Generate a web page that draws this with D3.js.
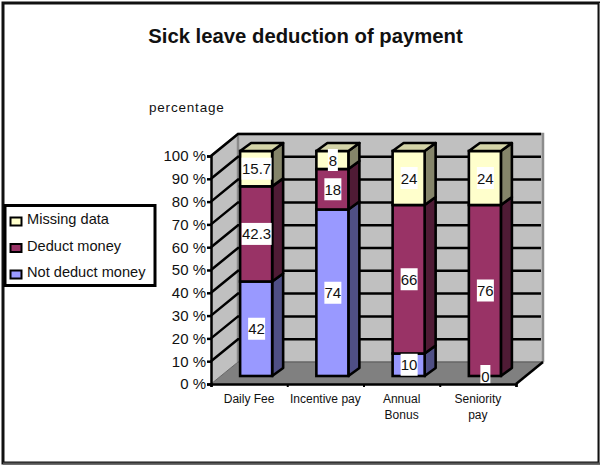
<!DOCTYPE html>
<html><head><meta charset="utf-8">
<script src="https://cdn.jsdelivr.net/npm/d3@7"></script>
<style>html,body{margin:0;padding:0;background:#fff}svg{display:block}text{font-family:"Liberation Sans",Arial,sans-serif;fill:#111}</style>
</head><body><svg id="c" width="600" height="465"></svg>
<script>
const categories = [["Daily Fee"], ["Incentive pay"], ["Annual","Bonus"], ["Seniority","pay"]];
const seriesNames = ["Not deduct money", "Deduct money", "Missing data"];
const notDeduct = [42, 74, 10, 0];
const deduct = [42.3, 18, 66, 76];
const missing = [15.7, 8, 24, 24];
const yTicks = [0,10,20,30,40,50,60,70,80,90,100];
const front = ["#9999ff","#993366","#ffffcc"];
const side = ["#4f4f85","#4f1b35","#85856a"];
const topFace = ["#7a7acc","#7a2952","#d4d4a8"];
const series = [notDeduct, deduct, missing];

const svg = d3.select("#c");
// chart frame
svg.append("rect").attr("x",3).attr("y",3).attr("width",596).attr("height",460)
  .attr("fill","#fff").attr("stroke","#111").attr("stroke-width",3);
svg.append("line").attr("x1",599.5).attr("x2",599.5).attr("y1",3).attr("y2",464).attr("stroke","#777").attr("stroke-width",1);
svg.append("line").attr("x1",3).attr("x2",600).attr("y1",463.5).attr("y2",463.5).attr("stroke","#555").attr("stroke-width",2);

svg.append("text").attr("x",305.5).attr("y",43).attr("text-anchor","middle")
  .attr("font-size",20.3).attr("font-weight","bold").text("Sick leave deduction of payment");
svg.append("text").attr("x",149).attr("y",112).attr("font-size",13.5).attr("letter-spacing",0.8).text("percentage");

// plot geometry
const y0 = 384, y100 = 156, x0 = 211, x1 = 516, dw = 27, dh = 22, bdx = 11, bdy = 8;
const yAxis = d3.scaleLinear().domain([0,100]).range([y0,y100]);
const yBar = d3.scaleLinear().domain([0,100]).range([376,151]);
const x = d3.scaleBand().domain(d3.range(categories.length)).range([218,523]).paddingInner(0.58).paddingOuter(0.29);
const tickX = d3.scaleBand().domain(d3.range(categories.length)).range([x0,x1]);
const pts = a => a.map(p=>p.join(",")).join(" ");

// walls and floor
svg.append("polygon").attr("points",pts([[x0+dw,y100-dh],[x1+dw,y100-dh],[x1+dw,y0-dh],[x0+dw,y0-dh]])).attr("fill","#c0c0c0");
svg.append("polygon").attr("points",pts([[x0,y100],[x0+dw,y100-dh],[x0+dw,y0-dh],[x0,y0]])).attr("fill","#c0c0c0");
svg.append("polygon").attr("points",pts([[x0,y0],[x0+dw,y0-dh],[x1+dw,y0-dh],[x1,y0]])).attr("fill","#808080");
// wall edges
svg.append("polyline").attr("points",pts([[x0,y100],[x0+dw,y100-dh],[x1+dw,y100-dh],[x1+dw,y0-dh]])).attr("fill","none").attr("stroke","#8c8c8c").attr("stroke-width",2.5);
svg.append("line").attr("x1",x0+dw).attr("x2",x0+dw).attr("y1",y100-dh).attr("y2",y0-dh).attr("stroke","#8c8c8c").attr("stroke-width",2.5);
svg.append("line").attr("x1",x0+dw).attr("x2",x1+dw).attr("y1",y0-dh).attr("y2",y0-dh).attr("stroke","#666").attr("stroke-width",1.5);
svg.append("line").attr("x1",x0).attr("x2",x0+dw).attr("y1",y0).attr("y2",y0-dh).attr("stroke","#666").attr("stroke-width",1);

// gridlines
yTicks.filter(t=>t>0).forEach(t=>{
  const yy = yAxis(t);
  svg.append("polyline").attr("points",pts([[x0,yy],[x0+dw,yy-dh],[x1+dw-2,yy-dh]])).attr("fill","none").attr("stroke","#000").attr("stroke-width",2.5);
});

// bars
const sw = 2.6;
categories.forEach((c,i)=>{
  const bx = x(i), bw = x.bandwidth();
  let cum = 0;
  const segs = series.map((s,k)=>{ const a=cum; cum+=s[i]; return {k,a,b:cum,v:s[i]}; });
  const g = svg.append("g");
  segs.filter(d=>d.v>0).forEach(d=>{
    const yt = yBar(d.b), yb = yBar(d.a);
    g.append("polygon").attr("points",pts([[bx+bw,yb],[bx+bw+bdx,yb-bdy],[bx+bw+bdx,yt-bdy],[bx+bw,yt]]))
      .attr("fill",side[d.k]).attr("stroke","#000").attr("stroke-width",sw).attr("stroke-linejoin","round");
    g.append("rect").attr("x",bx).attr("y",yt).attr("width",bw).attr("height",yb-yt)
      .attr("fill",front[d.k]).attr("stroke","#000").attr("stroke-width",sw);
  });
  const topY = yBar(cum);
  g.append("polygon").attr("points",pts([[bx,topY],[bx+bdx,topY-bdy],[bx+bw+bdx,topY-bdy],[bx+bw,topY]]))
    .attr("fill",topFace[2]).attr("stroke","#000").attr("stroke-width",sw).attr("stroke-linejoin","round");
  segs.forEach(d=>{
    const cy = (yBar(d.a)+yBar(d.b))/2, cx = bx+bw/2+0.5;
    const lab = String(d.v), w = lab.length===1?10:lab.length===2?17:30;
    g.append("rect").attr("x",cx-w/2).attr("y",cy-11).attr("width",w).attr("height",22).attr("fill","#fff");
    g.append("text").attr("x",cx).attr("y",cy+5.5).attr("text-anchor","middle").attr("font-size",15).text(lab);
  });
});

// axes
const yAx = svg.append("g").attr("transform",`translate(${x0},0)`)
  .call(d3.axisLeft(yAxis).tickValues(yTicks).tickSize(4).tickFormat(d=>d+" %"));
yAx.select(".domain").attr("stroke","#000").attr("stroke-width",2.5);
yAx.selectAll(".tick line").attr("stroke","#000").attr("stroke-width",2.5);
yAx.selectAll(".tick text").attr("font-size",15).attr("fill","#111").attr("font-family",'"Liberation Sans",Arial,sans-serif').attr("x",-5);

const xAx = svg.append("g").attr("transform",`translate(0,${y0})`)
  .call(d3.axisBottom(d3.scaleLinear().domain([0,4]).range([x0,x1])).tickValues([0,1,2,3,4]).tickSize(3).tickFormat(""));
xAx.select(".domain").attr("stroke","#000").attr("stroke-width",2.5);
xAx.selectAll(".tick line").attr("stroke","#000").attr("stroke-width",2);
svg.append("line").attr("x1",x1).attr("y1",y0).attr("x2",x1+dw).attr("y2",y0-dh).attr("stroke","#000").attr("stroke-width",2.5);

categories.forEach((c,i)=>{
  const t = svg.append("text").attr("text-anchor","middle").attr("font-size",12);
  c.forEach((ln,j)=>t.append("tspan").attr("x",tickX(i)+tickX.bandwidth()/2).attr("y",403+j*16).text(ln));
});

// legend
const lg = svg.append("g");
lg.append("rect").attr("x",5).attr("y",205.5).attr("width",150).attr("height",80).attr("fill","#fff").attr("stroke","#000").attr("stroke-width",3);
[2,1,0].forEach((k,r)=>{
  const yy = 219 + r*26.5;
  lg.append("rect").attr("x",10.5).attr("y",yy-1.5).attr("width",11).attr("height",8).attr("fill",front[k]).attr("stroke","#000").attr("stroke-width",2);
  lg.append("text").attr("x",27).attr("y",yy+5).attr("font-size",14.6).text(seriesNames[k]);
});
</script></body></html>
